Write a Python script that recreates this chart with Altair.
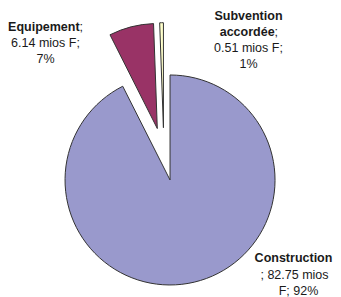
import altair as alt
import pandas as pd

categories = ["Construction", "Equipement", "Subvention accordée"]
values = [82.75, 6.14, 0.51]
percents = ["92%", "7%", "1%"]
colors = ["#9999CC", "#993366", "#FFFFCC"]

# layout / style (chart pixel coordinates)
CX, CY, R, EXPLODE = 155.9, 146.2, 105, 26.5
FONT = "Liberation Sans"
FS = 12.5
LH = 16.2
SEMI = 3.4  # width of ";"

df = pd.DataFrame({"cat": categories, "value": values, "order": list(range(len(values)))})

base = (
    alt.Chart(df)
    .transform_joinaggregate(total="sum(value)")
    .transform_window(cum="sum(value)", sort=[alt.SortField("order")], frame=[None, 0])
    .transform_calculate(start="2*PI*(datum.cum - datum.value)/datum.total")
    .transform_calculate(end="2*PI*datum.cum/datum.total")
    .transform_calculate(mid="(datum.start + datum.end)/2")
    .transform_calculate(px=f"{CX} + {EXPLODE}*sin(datum.mid)")
    .transform_calculate(py=f"{CY} - {EXPLODE}*cos(datum.mid)")
)

arcs = base.mark_arc(radius=R, stroke="#333333", strokeWidth=1).encode(
    theta=alt.Theta("start:Q", scale=None),
    theta2="end:Q",
    x=alt.X("px:Q", scale=None),
    y=alt.Y("py:Q", scale=None),
    color=alt.Color("cat:N", scale=alt.Scale(domain=categories, range=colors), legend=None),
)

# label text built from the data arrays
center_normal = []
center_bold = []
right_bold = []
left_normal = []

def bold_semi(word, bw, cx, y):
    w = bw + SEMI
    xe = cx - w / 2 + bw
    right_bold.append({"text": word, "x": xe, "y": y})
    left_normal.append({"text": ";", "x": xe, "y": y})

# Construction
cx, y0 = 285.5, 250.3
center_bold.append({"text": categories[0], "x": cx, "y": y0})
center_normal.append({"text": f"; {values[0]:.2f} mios", "x": cx + 1, "y": y0 + LH})
center_normal.append({"text": f"F; {percents[0]}", "x": cx + 5, "y": y0 + 2 * LH})

# Equipement
cx, y0 = 37.5, 18.7
bold_semi(categories[1], 71.6, cx, y0)
center_normal.append({"text": f"{values[1]:.2f} mios F;", "x": cx, "y": y0 + LH})
center_normal.append({"text": percents[1], "x": cx, "y": y0 + 2 * LH})

# Subvention accordée
cx, y0 = 240.5, 7.5
w1, w2 = categories[2].split(" ")
center_bold.append({"text": w1, "x": cx, "y": y0})
bold_semi(w2, 55.6, cx, y0 + LH)
center_normal.append({"text": f"{values[2]:.2f} mios F;", "x": cx, "y": y0 + 2 * LH})
center_normal.append({"text": percents[2], "x": cx, "y": y0 + 3 * LH})

def text_layer(rows, align, weight):
    return alt.Chart(pd.DataFrame(rows)).mark_text(
        align=align, baseline="middle", font=FONT, fontSize=FS,
        fontWeight=weight, color="#1a1a1a"
    ).encode(
        x=alt.X("x:Q", scale=None),
        y=alt.Y("y:Q", scale=None),
        text="text:N",
    )

chart = alt.layer(
    arcs,
    text_layer(center_normal, "center", "normal"),
    text_layer(center_bold, "center", "bold"),
    text_layer(right_bold, "right", "bold"),
    text_layer(left_normal, "left", "normal"),
).properties(
    width=325, height=289, padding=0, autosize="none"
).configure_view(stroke=None)

chart.save("out.html", embed_options={"renderer": "svg", "actions": False})
